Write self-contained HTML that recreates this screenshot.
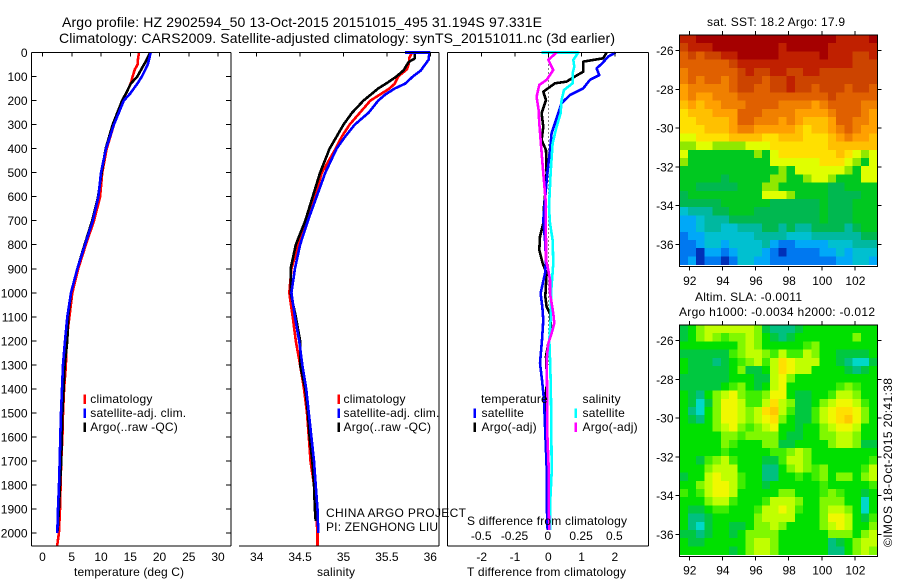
<!DOCTYPE html>
<html>
<head>
<meta charset="utf-8">
<title>Argo profile</title>
<style>
html,body{margin:0;padding:0;background:#fff;}
svg{display:block;font-family:"Liberation Sans",sans-serif;}
text{fill:#000;font-size:12px;}
.leg{letter-spacing:0.2px;}
</style>
</head>
<body>
<svg id="fig" width="900" height="580" viewBox="0 0 900 580" xmlns="http://www.w3.org/2000/svg">
<rect x="0" y="0" width="900" height="580" fill="#fff"/>
<g id="heatmaps"></g>
<g id="series"></g>
<g id="axes"></g>
<text x="62" y="27" style="font-size:14px" textLength="480" lengthAdjust="spacing">Argo profile: HZ 2902594_50 13-Oct-2015 20151015_495 31.194S 97.331E</text>
<text x="59" y="43" style="font-size:14px" textLength="556" lengthAdjust="spacing">Climatology: CARS2009. Satellite-adjusted climatology: synTS_20151011.nc (3d earlier)</text>
<text x="707" y="26" textLength="138" lengthAdjust="spacing">sat. SST: 18.2 Argo: 17.9</text>
<text x="695" y="301" textLength="107" lengthAdjust="spacing">Altim. SLA: -0.0011</text>
<text x="679" y="316" textLength="196" lengthAdjust="spacing">Argo h1000: -0.0034 h2000: -0.012</text>
<text transform="translate(892,547) rotate(-90)" textLength="169" lengthAdjust="spacing">©IMOS 18-Oct-2015 20:41:38</text>
<text x="74" y="576" textLength="110" lengthAdjust="spacing">temperature (deg C)</text>
<text x="317" y="576" textLength="38" lengthAdjust="spacing">salinity</text>
<text x="467" y="576" textLength="159" lengthAdjust="spacing">T difference from climatology</text>
<text x="467" y="525" textLength="160" lengthAdjust="spacing">S difference from climatology</text>
<text x="326" y="517" textLength="140" lengthAdjust="spacing">CHINA ARGO PROJECT</text>
<text x="326" y="531" textLength="112" lengthAdjust="spacing">PI: ZENGHONG LIU</text>
<g id="legends"></g>
</svg>
<script>
/* ---------- Tick labels ---------- */
const depthTicks = [0,100,200,300,400,500,600,700,800,900,1000,1100,1200,1300,1400,1500,1600,1700,1800,1900,2000];
const tempTicks = [0,5,10,15,20,25,30];
const salTicks = ["34","34.5","35","35.5","36"];
const tDiffTicks = ["-2","-1","0","1","2"];
const sDiffTicks = ["-0.5","-0.25","0","0.25","0.5"];
const lonTicks = [92,94,96,98,100,102];
const latTicks = [-26,-28,-30,-32,-34,-36];

/* ---------- Temperature profiles ---------- */
const tempDepthClim = [0,30,50,70,100,130,170,200,300,400,500,600,700,800,900,1000,1100,1200,1300,1400,1500,1600,1700,1800,1900,2000,2055];
const tempClim = [16.5,16.3,16.25,15.8,15.4,15.07,14.27,13.7,12.2,10.97,10.2,9.85,8.8,7.4,6.1,5.1,4.6,4.1,4.0,3.7,3.5,3.4,3.2,3.1,3.0,2.8,2.5];
const tempDepthSat = [0,50,100,130,170,200,300,400,500,600,700,800,900,1000,1100,1200,1300,1400,1500,1600,1700,1800,1900,2000];
const tempSat = [18.5,18.0,17.0,16.2,15.0,13.9,12.2,10.85,10.0,9.55,8.6,7.26,5.95,4.87,4.24,3.85,3.5,3.33,3.16,3.05,2.94,2.82,2.65,2.53];
const tempDepthArgo = [0,40,50,100,130,170,200,300,400,500,600,700,800,900,1000,1100,1200,1300,1400,1500,1600,1700,1800,1900,1990];
const tempArgo = [18.4,17.6,17.35,16.2,15.1,14.27,13.6,12.0,10.8,10.1,9.5,8.5,7.2,5.95,4.87,4.4,4.24,3.8,3.6,3.4,3.3,3.2,3.0,2.8,2.6];

/* ---------- Salinity profiles ---------- */
const salDepthClim = [0,20,50,70,100,130,150,200,250,300,350,400,500,600,700,800,900,1000,1100,1200,1300,1400,1500,1600,1700,1800,1900,2000,2055];
const salClim = [35.79,35.76,35.75,35.73,35.63,35.59,35.53,35.31,35.19,35.07,34.98,34.91,34.75,34.67,34.58,34.48,34.40,34.375,34.415,34.45,34.5,34.545,34.58,34.6,34.62,34.66,34.68,34.7,34.7];
const salDepthSat = [0,0,30,50,75,100,130,150,175,200,250,300,350,400,500,600,700,800,900,1000,1100,1200,1300,1400,1500,1600,1700,1800,1900,2000];
const salSat = [35.71,35.99,35.98,35.94,35.89,35.8,35.71,35.59,35.48,35.4,35.29,35.13,35.02,34.92,34.79,34.69,34.59,34.5,34.44,34.4,34.44,34.49,34.525,34.57,34.6,34.63,34.66,34.68,34.7,34.71];
const salDepthArgo = [0,25,40,75,100,125,150,200,250,300,350,400,500,600,700,800,900,1000,1100,1200,1300,1400,1500,1600,1700,1800,1900,1950];
const salArgo = [35.82,35.82,35.75,35.69,35.61,35.51,35.4,35.23,35.1,35.0,34.92,34.84,34.73,34.645,34.56,34.45,34.39,34.39,34.45,34.5,34.5,34.56,34.59,34.61,34.64,34.66,34.67,34.68];

/* ---------- Difference profiles ---------- */
const dTSatDepth = [0,17,45,66,94,114,149,177,211,274,336,406,503,614,697,780,864,920,1002,1058,1113,1196,1293,1363,1446,1585,1723,1862,1987];
const dTSat = [2.02,1.8,1.62,1.45,1.53,1.25,1.05,0.65,0.4,0.25,0.1,0.05,-0.03,-0.1,-0.15,-0.1,-0.07,-0.1,-0.23,-0.18,-0.15,-0.19,-0.25,-0.19,-0.13,-0.09,-0.05,-0.05,-0.02];
const dTArgoDepth = [0,24,38,80,100,121,128,163,198,253,309,364,406,503,572,641,711,766,822,877,919,1016,1058,1086,1169,1210,1265,1321,1390,1446,1529,1585,1723,1862,1987];
const dTArgo = [1.75,1.65,1.05,1.05,0.8,0.55,0.2,-0.15,-0.07,-0.2,-0.15,-0.2,-0.07,-0.05,-0.08,-0.13,-0.15,-0.25,-0.27,-0.17,-0.05,-0.09,-0.05,0.05,0.1,0,-0.07,-0.05,-0.05,-0.09,-0.09,-0.05,-0.03,-0.02,0];
const dSSatDepth = [0,0,31,59,87,128,156,198,253,309,378,503,642,711,780,877,1002,1086,1196,1307,1446,1696,1751,1862,1987];
const dSSat = [-0.05,0.225,0.1875,0.195,0.1825,0.1825,0.1175,0.1,0.0925,0.0625,0.0325,0.0175,0.005,0.0125,0.0325,0.0375,0.02,0.02,0.0075,0.015,0.02,0.025,0.025,0.015,0.015];
const dSArgoDepth = [0,31,73,114,135,184,239,295,364,503,614,697,780,864,905,947,1002,1086,1127,1169,1210,1279,1446,1585,1723,1862,1987];
const dSArgo = [0.0625,0,0.0375,-0.0125,-0.0675,-0.0875,-0.0725,-0.0675,-0.0575,-0.0375,-0.02,-0.02,-0.0175,-0.0175,0,0.0125,0.0125,0.0375,0.045,0.025,0,-0.0125,-0.0075,-0.0075,0.0025,0.0025,0.0075];

/* ---------- Map grids (colour-class values, one row per latitude band) ---------- */
const sstGrid = [
[15,15,16,16,16,16,16,16,16,16,16,16,16,16,16,16,16,16,16,15,15,15,15,16],
[14,15,15,15,16,16,16,16,16,16,16,16,15,16,16,16,16,16,15,15,15,15,15,15],
[13,14,13,14,14,15,15,16,16,16,16,16,15,15,15,15,15,16,15,15,15,14,14,15],
[13,13,13,13,13,13,14,15,15,15,15,15,15,15,15,15,15,15,15,15,15,14,14,14],
[12,13,13,13,13,13,13,14,15,14,14,15,15,14,14,15,15,14,14,14,14,14,14,14],
[12,13,12,13,13,12,13,14,14,14,13,14,14,15,14,14,14,14,14,14,14,14,14,14],
[11,12,12,12,12,12,13,14,14,13,13,14,14,15,14,14,13,14,14,14,13,14,14,13],
[11,12,11,11,12,12,12,13,13,13,13,13,13,13,13,13,13,13,14,13,13,13,13,13],
[10,11,10,11,11,12,12,12,13,13,13,13,12,12,12,12,11,12,13,13,13,13,12,12],
[9,10,10,10,11,11,11,13,13,13,12,12,12,12,11,11,11,11,12,13,13,13,12,11],
[9,9,10,10,10,10,11,13,13,12,12,12,11,12,11,10,10,10,11,13,13,12,12,11],
[9,9,9,10,10,10,11,12,12,11,11,11,11,11,10,9,10,10,11,12,13,12,11,11],
[8,8,9,9,9,9,10,10,10,10,9,9,10,10,10,9,9,9,10,11,12,11,11,10],
[7,7,8,8,7,7,7,7,8,8,8,9,9,9,9,9,9,9,10,10,10,10,10,10],
[8,6,6,6,6,6,6,6,6,7,6,8,9,9,9,9,9,9,9,10,9,8,7,8],
[7,6,6,6,6,6,6,6,6,6,6,8,8,8,8,8,8,9,9,9,8,7,6,8],
[6,6,6,6,6,6,6,6,6,6,6,6,7,6,8,8,8,8,8,8,7,6,8,8],
[6,6,6,6,6,5,6,6,6,6,6,7,7,6,6,7,8,8,7,6,6,6,8,8],
[6,6,5,5,5,5,5,6,6,6,7,7,6,6,6,6,6,6,5,5,6,6,6,6],
[5,6,6,6,6,6,6,6,6,6,8,8,8,7,6,6,6,6,5,5,5,5,6,6],
[5,5,5,5,5,6,6,6,6,6,6,5,5,5,5,5,5,6,5,5,5,6,6,6],
[3,4,4,4,5,5,6,6,6,5,5,5,5,5,5,5,5,6,5,5,5,6,6,6],
[2,2,3,4,4,4,5,5,5,5,5,5,5,5,5,5,5,6,5,5,5,6,6,6],
[2,2,3,4,4,3,3,4,4,4,5,5,4,5,4,4,5,5,5,5,4,5,6,6],
[1,2,2,3,3,3,3,3,3,4,4,4,4,3,3,3,4,4,4,4,4,4,5,5],
[1,1,2,3,3,2,3,3,3,3,4,2,1,1,2,2,2,2,3,3,3,4,4,4],
[1,1,0,2,2,1,2,3,3,3,2,1,0,1,1,1,1,2,2,3,2,3,3,3],
[1,2,0,1,1,0,1,3,3,2,2,1,1,1,1,1,1,1,1,2,2,3,3,2]
];
const slaGrid = [
[2,3,5,6,6,6,6,6,6,5,2,1,1,1,2,3,3,3,3,3,3,3,3,3],
[2,3,5,6,5,4,5,5,6,5,3,2,1,2,3,3,3,3,3,3,3,5,3,3],
[3,3,3,3,3,3,3,5,6,5,3,3,3,3,3,4,5,3,3,3,3,3,3,3],
[2,2,2,2,2,2,4,5,6,6,5,4,6,4,4,6,5,3,3,2,2,2,2,3],
[3,2,2,2,1,2,3,4,5,6,4,6,8,7,6,6,6,3,3,2,1,0,0,2],
[3,2,2,2,2,2,3,5,2,2,3,6,8,7,6,6,3,3,3,3,2,1,2,3],
[2,2,2,2,2,2,3,3,3,2,2,6,7,5,3,3,3,3,3,3,3,3,3,3],
[2,2,2,2,2,3,4,5,3,2,3,6,7,3,3,3,3,3,3,4,5,4,3,3],
[3,2,1,3,5,6,7,5,4,4,5,7,7,3,2,2,3,3,4,6,6,5,3,3],
[3,2,0,2,5,7,7,6,4,4,6,8,6,5,2,2,3,5,6,7,7,6,4,3],
[3,1,0,3,5,7,7,6,5,6,8,9,6,4,2,2,4,6,7,8,8,7,5,3],
[3,2,1,3,5,7,7,6,5,6,7,8,5,3,2,2,4,6,7,8,9,7,5,3],
[3,3,3,3,5,6,7,5,4,5,6,7,3,3,2,3,3,5,6,7,7,6,3,3],
[3,3,3,3,3,5,5,4,5,5,5,5,3,2,2,3,3,5,5,6,6,5,3,3],
[3,3,3,3,3,5,4,3,3,3,5,5,2,2,3,3,3,3,5,6,6,5,2,2],
[3,3,3,3,3,4,3,3,3,3,3,4,4,5,6,5,3,3,3,3,3,3,3,3],
[3,3,2,4,5,6,4,3,3,3,2,2,4,6,6,5,3,3,3,3,3,3,3,4],
[3,3,3,5,6,6,6,3,3,3,1,1,3,5,6,5,4,5,3,3,3,3,4,6],
[2,3,3,6,7,6,6,4,3,3,1,1,3,3,4,3,4,5,3,5,5,3,5,6],
[3,3,5,6,7,7,6,4,3,3,2,3,3,3,3,3,3,4,3,3,3,3,3,4],
[4,3,4,6,7,7,6,3,3,3,3,3,5,5,3,3,3,4,5,4,3,3,2,3],
[3,3,3,5,6,6,4,3,3,3,4,6,6,6,5,3,3,5,5,5,3,3,0,3],
[3,2,2,3,4,4,3,3,3,4,6,6,7,6,4,3,3,5,6,6,5,3,0,3],
[3,1,1,2,3,3,3,3,3,5,6,6,6,6,3,3,3,5,7,7,6,3,2,4],
[3,1,0,2,3,3,2,2,3,5,5,6,5,3,3,3,3,5,6,7,6,3,3,5],
[2,2,1,2,3,3,2,3,5,5,5,5,3,3,3,3,3,3,5,5,5,3,5,6],
[3,2,2,3,3,3,3,3,5,6,6,5,3,3,3,3,3,3,1,2,3,5,6,6],
[3,3,3,3,3,3,2,3,5,6,6,5,3,3,3,3,3,3,1,1,3,5,6,5]
];
const sstColors = ["#0030b8","#0078f0","#00a8f8","#00c0d0","#00b8a0","#00b850","#00c820","#90e800","#e0ff00","#ffe000","#ffc000","#ffa000","#f08000","#e06000","#cc4400","#c02000","#a50000"];
const slaColors = ["#00d8c8","#00c080","#00c840","#00e000","#40ee00","#80f800","#c0ff00","#f0f800","#ffe000","#ffc800"];

/* ---------- Axis functions ---------- */
const P1={l:31.5,r:231}, P2={l:239,r:439}, P3={l:447.5,r:648.5}, TOP=52.5, BOT=546;
const yDepth = d => 52.5 + d*0.2403;
const xTemp = v => 42.5 + v*5.85;
const xSal = v => 256.7 + (v-34)*86.8;
const xDT = v => 548.3 + v*33.3;
const xDS = v => 548.3 + v*133.2;
const xLon = v => 689.3 + (v-92)*16.56;
const yLatA = v => 50.7 + (-26-v)*19.36;
const yLatB = v => 340.7 + (-26-v)*19.36;
const lonOfCol = i => 91.41 + i*0.498;
const latOfRow = r => -25.19 - r*0.4236;

const NS="http://www.w3.org/2000/svg";
const gHeat=document.getElementById('heatmaps'), gSeries=document.getElementById('series'), gAxes=document.getElementById('axes'), gLeg=document.getElementById('legends');
function mk(tag,parent,props){const e=document.createElementNS(NS,tag);for(const k in props)e.setAttribute(k,props[k]);parent.appendChild(e);return e;}
function seg(x1,y1,x2,y2,w){return mk('line',gAxes,{x1,y1,x2,y2,stroke:'#000','stroke-width':w||1,'shape-rendering':'crispEdges'});}
function txt(parent,x,y,s,anchor){const e=mk('text',parent,{x,y,'text-anchor':anchor||'start'});e.textContent=s;return e;}

/* ---------- Heat maps ---------- */
function drawMap(grid,colors,yLat,nameStr){
  grid.forEach((row,r)=>row.forEach((v,c)=>{
    const x=xLon(lonOfCol(c)), y=yLat(latOfRow(r));
    const el=mk('rect',gHeat,{x:x,y:y,width:xLon(lonOfCol(c+1))-x+0.5,height:yLat(latOfRow(r+1))-y+0.5,fill:colors[v],'shape-rendering':'crispEdges'});
    
    
  }));
}
drawMap(sstGrid,sstColors,yLatA,'sst-map-cell');
drawMap(slaGrid,slaColors,yLatB,'sla-map-cell');

/* ---------- Profile series ---------- */
function drawLine(depths,vals,xf,color,w,nameStr){
  const pts=depths.map((d,i)=>xf(vals[i]).toFixed(1)+','+yDepth(d).toFixed(1)).join(' ');
  const el=mk('polyline',gSeries,{points:pts,fill:'none',stroke:color,'stroke-width':w,'shape-rendering':'crispEdges','stroke-linejoin':'round'});
  
  
}
drawLine(tempDepthClim,tempClim,xTemp,'#ff0000',2.6,'temperature-climatology-line');
drawLine(tempDepthArgo,tempArgo,xTemp,'#000000',2.6,'temperature-argo-line');
drawLine(tempDepthSat,tempSat,xTemp,'#0000ff',2.6,'temperature-satellite-line');
drawLine(salDepthClim,salClim,xSal,'#ff0000',2.6,'salinity-climatology-line');
drawLine(salDepthArgo,salArgo,xSal,'#000000',2.6,'salinity-argo-line');
drawLine(salDepthSat,salSat,xSal,'#0000ff',2.6,'salinity-satellite-line');
const zeroLine=mk('line',gSeries,{x1:xDT(0),y1:yDepth(0),x2:xDT(0),y2:yDepth(1300),stroke:'#000','stroke-width':1,'stroke-dasharray':'1 3','shape-rendering':'crispEdges'});


drawLine(dTArgoDepth,dTArgo,xDT,'#000000',2.6,'t-difference-argo-line');
drawLine(dTSatDepth,dTSat,xDT,'#0000ff',2.6,'t-difference-satellite-line');
drawLine(dSSatDepth,dSSat,xDS,'#00ffff',2.6,'s-difference-satellite-line');
drawLine(dSArgoDepth,dSArgo,xDS,'#ff00ff',2.6,'s-difference-argo-line');

/* ---------- Panel frames and ticks ---------- */
[[P1,'temperature'],[P2,'salinity'],[P3,'difference']].forEach(([p,n])=>{
  const top=seg(p.l,TOP,p.r,TOP);
  
  
  const bot=seg(p.l,BOT,p.r,BOT);
  
  
  const right=seg(p.r,TOP,p.r,BOT);
  
  
  if(p!==P2){
    const left=seg(p.l,TOP,p.l,BOT);
    
    
  }
});
depthTicks.forEach(d=>{
  const y=yDepth(d);
  const t1=seg(P1.l,y,P1.l+5,y);
  
  
  const t2=seg(P1.r-5,y,P1.r,y);
  
  
  const l=txt(gAxes,27.5,y+4.5,String(d),'end');
  
  
});
function xTicks(list,xf,nameStr){
  list.forEach(v=>{
    const x=xf(Number(v));
    const t=seg(x,TOP,x,TOP+4);
    
    
    const l=txt(gAxes,x,561,String(v),'middle');
    
    
  });
}
xTicks(tempTicks,xTemp,'temperature');
xTicks(salTicks,xSal,'salinity');
xTicks(tDiffTicks,xDT,'t-difference');
sDiffTicks.forEach(v=>{
  const l=txt(gAxes,xDS(Number(v))-0.5,540,v,'middle');
  
  
});

/* ---------- Map frames and ticks ---------- */
function mapFrame(top,bottom,yLat,labelY,nameStr){
  const L=679.5,R=877.5;
  const box=mk('rect',gAxes,{x:L,y:top,width:R-L,height:bottom-top,fill:'none',stroke:'#000','stroke-width':1,'shape-rendering':'crispEdges'});
  
  
  lonTicks.forEach(v=>{
    const x=xLon(v);
    const a=seg(x,top-4,x,top);
    
    
    const b=seg(x,bottom,x,bottom+4);
    
    
    const l=txt(gAxes,x+0.5,labelY,String(v),'middle');
    
    
  });
  latTicks.forEach(v=>{
    const y=yLat(v);
    const a=seg(L-4,y,L,y);
    
    
    const b=seg(R,y,R+4,y);
    
    
    const l=txt(gAxes,673.5,y+4.5,String(v),'end');
    
    
  });
}
mapFrame(35,266.5,yLatA,285,'sst-map');
mapFrame(325,556.5,yLatB,574.5,'sla-map');

/* ---------- Legends ---------- */
function legend(x,tx,y,color,label){
  const b=mk('rect',gLeg,{x:x,y:y-4.5,width:2.6,height:9.5,fill:color,'shape-rendering':'crispEdges'});
  
  
  const t=txt(gLeg,tx,y+4,label);
  t.setAttribute('class','leg');
  
  
}
legend(83.3,90.3,399,'#ff0000','climatology');
legend(83.3,90.3,413,'#0000ff','satellite-adj. clim.');
legend(83.3,90.3,427,'#000000','Argo(..raw -QC)');
legend(337.5,343.5,399,'#ff0000','climatology');
legend(337.5,343.5,413,'#0000ff','satellite-adj. clim.');
legend(337.5,343.5,427,'#000000','Argo(..raw -QC)');
const lh1=txt(gLeg,481,403,'temperature');
lh1.setAttribute('class','leg');


legend(473.5,481.5,413,'#0000ff','satellite');
legend(473.5,481.5,427,'#000000','Argo(-adj)');
const lh2=txt(gLeg,582.5,403,'salinity');
lh2.setAttribute('class','leg');


legend(574.5,582.5,413,'#00ffff','satellite');
legend(574.5,582.5,427,'#ff00ff','Argo(-adj)');
</script>
</body>
</html>
